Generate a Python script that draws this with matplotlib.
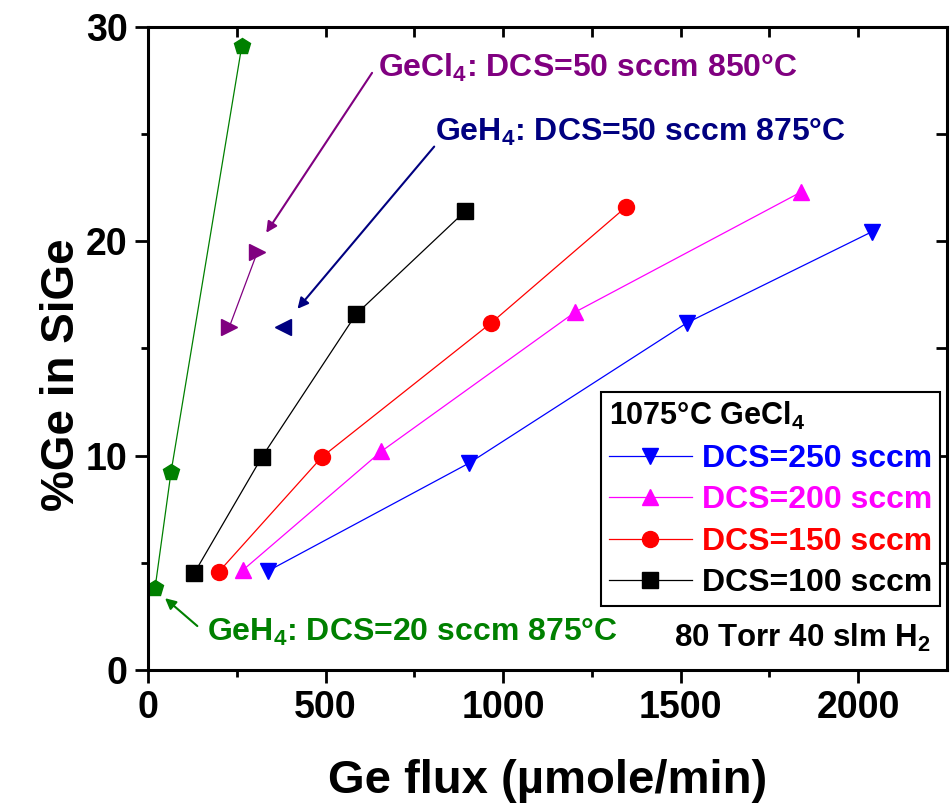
import numpy as np
import matplotlib
matplotlib.use("agg")
import matplotlib.pyplot as plt

plt.rcParams['font.family'] = ['Liberation Sans', 'DejaVu Sans']
plt.rcParams['font.weight'] = 'bold'
plt.rcParams['axes.labelweight'] = 'bold'
plt.rcParams['mathtext.fontset'] = 'custom'
plt.rcParams['mathtext.rm'] = 'Liberation Sans:bold'
plt.rcParams['mathtext.it'] = 'Liberation Sans:bold'
plt.rcParams['mathtext.bf'] = 'Liberation Sans:bold'

# GeCl4 at 1075C, series by DCS flow
dcs250_x = [339, 905, 1518, 2039]
dcs250_y = [4.63, 9.66, 16.2, 20.45]
dcs200_x = [268, 657, 1203, 1839]
dcs200_y = [4.67, 10.2, 16.7, 22.3]
dcs150_x = [200, 490, 967, 1346]
dcs150_y = [4.59, 9.94, 16.2, 21.6]
dcs100_x = [130, 321, 586, 893]
dcs100_y = [4.51, 9.94, 16.6, 21.4]

# other conditions
geh4_20_x = [20, 65, 264]
geh4_20_y = [3.83, 9.24, 29.1]
gecl4_850_x = [229, 308]
gecl4_850_y = [16.0, 19.5]
geh4_50_x = [381]
geh4_50_y = [16.0]

legend_title = "1075°C GeCl$_4$"
labels = ["DCS=250 sccm", "DCS=200 sccm", "DCS=150 sccm", "DCS=100 sccm"]
colors = ["#0000ff", "#ff00ff", "#ff0000", "#000000"]
markers = ["v", "^", "o", "s"]

fig = plt.figure(figsize=(9.51, 8.08), dpi=100)
ax = fig.add_axes([0.1556, 0.1708, 0.8402, 0.7958])

series = [(dcs250_x, dcs250_y), (dcs200_x, dcs200_y), (dcs150_x, dcs150_y), (dcs100_x, dcs100_y)]
handles = []
for (xs, ys), lab, c, m in zip(series, labels, colors, markers):
    h, = ax.plot(xs, ys, color=c, marker=m, lw=0.9, ms=11.5, mec=c, label=lab)
    handles.append(h)

ax.plot(geh4_20_x, geh4_20_y, color="#008000", marker="p", lw=0.9, ms=12)
ax.plot(gecl4_850_x, gecl4_850_y, color="#800080", marker=">", lw=0.9, ms=12)
ax.plot(geh4_50_x, geh4_50_y, color="#000080", marker="<", lw=0, ms=12)

# annotations
ap = dict(arrowstyle="-|>", lw=1.5, mutation_scale=16, shrinkA=0, shrinkB=0)
ax.annotate("", xy=(333, 20.4), xytext=(631, 27.86), arrowprops=dict(ap, color="#800080"))
ax.text(648, 28.1, "GeCl$_4$: DCS=50 sccm 850°C", color="#800080", fontsize=23, va="center")
ax.annotate("", xy=(421, 16.85), xytext=(806, 24.42), arrowprops=dict(ap, color="#000080"))
ax.text(809, 25.06, "GeH$_4$: DCS=50 sccm 875°C", color="#000080", fontsize=23, va="center")
ax.annotate("", xy=(48, 3.35), xytext=(139, 2.05), arrowprops=dict(ap, color="#008000"))
ax.text(166, 1.73, "GeH$_4$: DCS=20 sccm 875°C", color="#008000", fontsize=23, va="center")
ax.text(0.979, 0.05, "80 Torr 40 slm H$_2$", transform=ax.transAxes, fontsize=22.5,
        ha="right", va="center", color="black")

ax.set_xlim(0, 2250)
ax.set_ylim(0, 30)
ax.set_xticks([0, 500, 1000, 1500, 2000])
ax.set_xticks(np.arange(250, 2250, 500), minor=True)
ax.set_yticks([0, 10, 20, 30])
ax.set_yticks([5, 15, 25], minor=True)
ax.tick_params(which="major", direction="out", length=9.5, width=2, labelsize=27, pad=5)
ax.tick_params(which="minor", direction="out", length=5, width=2)
for s in ax.spines.values():
    s.set_linewidth(2.2)

top = ax.secondary_xaxis("top")
top.set_xticks(np.arange(0, 2251, 250))
top.tick_params(direction="in", length=7, width=2, labeltop=False)
right = ax.secondary_yaxis("right")
right.set_yticks(np.arange(0, 31, 5))
right.tick_params(direction="in", length=8, width=2, labelright=False)

ax.set_xlabel("Ge flux (µmole/min)", fontsize=34, labelpad=24)
ax.set_ylabel("%Ge in SiGe", fontsize=33)
ax.yaxis.set_label_coords(-0.08, 0.459)

leg = ax.legend(handles=handles, title=legend_title, loc="upper right",
                bbox_to_anchor=(0.991, 0.432), borderaxespad=0, fontsize=23,
                title_fontsize=22, fancybox=False, framealpha=1, edgecolor="black",
                handlelength=2.6, labelspacing=0.36, borderpad=0.25, handletextpad=0.3)
leg.get_frame().set_linewidth(1.5)
leg.get_title().set_fontweight("bold")
leg._legend_box.align = "left"
for t, c in zip(leg.get_texts(), colors):
    t.set_color(c)

fig.savefig("out.png", dpi=100)
